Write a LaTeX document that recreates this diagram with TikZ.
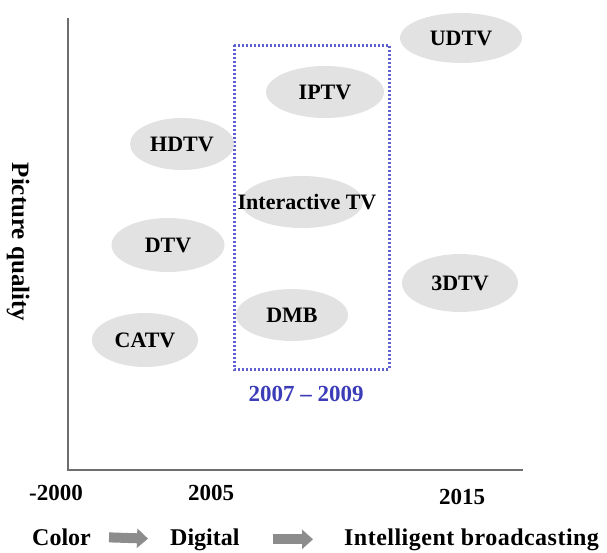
\documentclass[tikz,border=0pt]{standalone}
\usepackage{fontspec}
\setmainfont{Liberation Serif}
\usetikzlibrary{shapes.geometric,arrows.meta}
\definecolor{ellgray}{RGB}{226,226,226}
\definecolor{axisgray}{RGB}{110,110,110}
\definecolor{boxblue}{RGB}{95,95,205}
\definecolor{yrblue}{RGB}{60,60,185}
\definecolor{arrgray}{RGB}{140,140,140}
\tikzset{
  tv/.style={ellipse, fill=ellgray, draw=none, inner sep=0pt, font=\fontsize{22}{24}\selectfont\bfseries},
  lbl/.style={inner sep=0pt, font=\fontsize{22}{24}\selectfont\bfseries},
  bot/.style={inner sep=0pt, anchor=base west, font=\fontsize{24}{26}\selectfont\bfseries},
  axisline/.style={draw=axisgray, line width=2pt},
  blockarrow/.style={draw=arrgray, line width=10pt, -{Triangle[width=19pt,length=11pt]}}
}
\begin{document}
\begin{tikzpicture}[x=1pt,y=-1pt]
\useasboundingbox (0,0) rectangle (607,552);
% axes
\coordinate (top) at (68,18);
\coordinate (origin) at (68,470);
\coordinate (xend) at (523,470);
\draw[axisline] (top) -- (origin) -- (xend);
% dotted box
\draw[boxblue, line width=3pt, dash pattern=on 2pt off 2pt] (234,45) rectangle (389,369);
\node[lbl, text=yrblue, font=\fontsize{23}{25}\selectfont\bfseries] (period) at (306,394) {2007 -- 2009};
% ellipses
\node[tv, minimum width=122pt, minimum height=50pt] (udtv) at (461,38) {UDTV};
\node[tv, minimum width=118pt, minimum height=52pt] (iptv) at (325,92) {IPTV};
\node[tv, minimum width=104pt, minimum height=52pt] (hdtv) at (182,144) {HDTV};
\node[tv, minimum width=122pt, minimum height=52pt] (itv) at (302,202) {};
\node[lbl] (itvtext) at (307,202) {Interactive TV};
\node[tv, minimum width=113pt, minimum height=54pt] (dtv) at (168,245) {DTV};
\node[tv, minimum width=116pt, minimum height=58pt] (threed) at (460,283) {3DTV};
\node[tv, minimum width=112pt, minimum height=52pt] (dmb) at (292,315) {DMB};
\node[tv, minimum width=106pt, minimum height=54pt] (catv) at (145,340) {CATV};
% axis labels
\node[lbl, rotate=-90, font=\fontsize{25}{27}\selectfont\bfseries] (yl) at (18,242) {Picture quality};
\node[lbl, font=\fontsize{23}{25}\selectfont\bfseries] (y2000) at (56,493) {-2000};
\node[lbl, font=\fontsize{23}{25}\selectfont\bfseries] (y2005) at (211,493) {2005};
\node[lbl, font=\fontsize{23}{25}\selectfont\bfseries] (y2015) at (462,497) {2015};
% bottom row
\node[bot] (color) at (32,545) {Color};
\node[bot] (digital) at (170,545) {Digital};
\node[bot] (intel) at (344,545) {\addfontfeature{LetterSpace=2}Intelligent broadcasting};
\draw[blockarrow, shorten <=18pt, shorten >=22pt] (color.east) -- (digital.west);
\draw[blockarrow, shorten <=33pt, shorten >=31pt] (digital.east) -- (intel.west);
\end{tikzpicture}
\end{document}
